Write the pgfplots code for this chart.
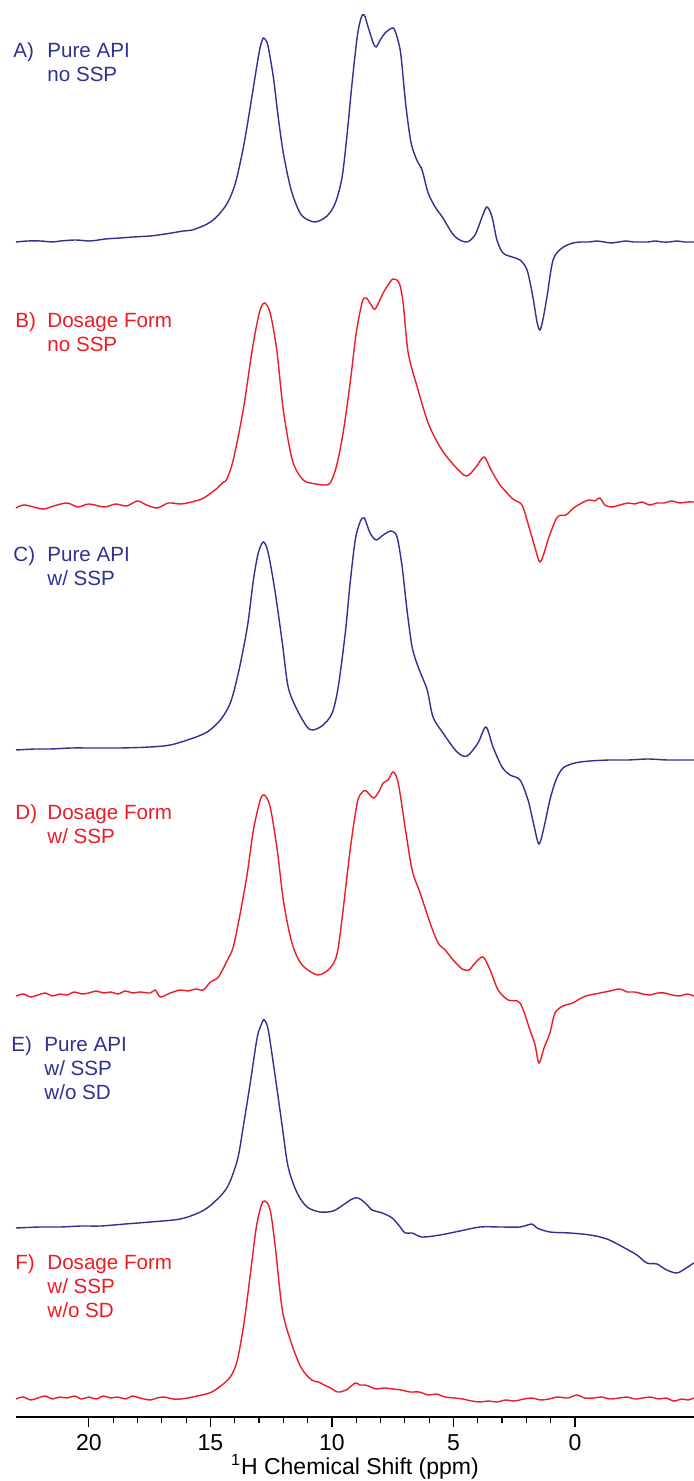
\documentclass[border=0pt]{standalone}
\usepackage{pgfplots}
\usepackage{pgfplotstable}
\pgfplotsset{compat=1.18}
\usepackage{fontspec}
\setmainfont{Liberation Sans}
\definecolor{apiblue}{HTML}{2E3192}
\definecolor{formred}{HTML}{ED1C24}

% 1H spectra: chemical shift (ppm) and intensity above each trace's own baseline
\pgfplotstableread{
ppm int
23.00 0
22.50 1
21.99 1
21.50 0
21.17 1
20.55 2
19.94 1
19.32 3
18.70 4
18.17 5
17.47 6
16.85 8
16.11 11
15.74 12
15.13 18
14.71 26
14.30 39
13.97 59
13.64 95
13.36 135
13.07 179
12.94 196
12.82 204
12.70 201
12.62 195
12.41 165
12.21 125
12.00 89
11.71 55
11.43 35
11.18 25
10.69 20
10.20 26
9.86 39
9.58 65
9.37 109
9.17 159
8.96 205
8.80 224
8.67 227
8.51 215
8.30 199
8.18 195
8.01 202
7.81 209
7.48 214
7.32 205
7.19 192
7.11 175
6.95 135
6.74 99
6.49 81
6.29 72
6.04 49
5.75 35
5.43 24
5.06 9
4.81 3
4.44 0
4.11 7
3.82 25
3.62 35
3.41 25
3.21 2
2.96 -11
2.59 -15
2.26 -18
1.97 -28
1.73 -55
1.56 -80
1.44 -88
1.32 -78
1.15 -55
0.90 -18
0.53 -6
0.08 -1
-0.29 0
-0.60 0
-0.90 1
-1.20 0
-1.50 -1
-1.80 0
-2.10 1
-2.40 0
-2.70 0
-3.00 0
-3.30 1
-3.60 0
-3.90 0
-4.20 1
-4.50 0
-4.90 0
}\specA

\pgfplotstableread{
ppm int
23.00 -1
22.65 2
21.90 -2
21.45 1
20.90 4
20.45 0
20.00 3
19.36 0
18.90 3
18.45 1
18.00 6
17.63 2
17.18 -1
16.73 4
16.19 3
15.62 6
15.27 9
14.71 19
14.47 25
14.34 27
14.06 47
13.65 97
13.28 157
12.99 194
12.78 204
12.54 194
12.27 157
12.00 97
11.63 47
11.18 27
10.65 23
10.28 22
10.07 24
9.82 40
9.54 74
9.25 124
9.00 174
8.75 205
8.59 209
8.38 202
8.22 198
7.89 214
7.69 222
7.48 228
7.23 224
7.07 204
6.86 154
6.49 120
6.04 84
5.55 60
5.06 44
4.48 31
4.07 40
3.74 50
3.45 37
3.08 22
2.55 8
2.18 2
1.89 -20
1.64 -41
1.44 -55
1.23 -43
1.07 -30
0.72 -10
0.37 -8
0.00 0
-0.55 7
-0.82 6
-1.03 9
-1.23 2
-1.52 0
-1.85 2
-2.18 4
-2.47 3
-2.75 5
-3.08 2
-3.37 4
-3.66 4
-3.99 6
-4.32 4
-4.60 5
-4.89 5
}\specB

\pgfplotstableread{
ppm int
23.00 -3
22.20 -2
21.58 -2
20.70 -1
19.93 -1
18.70 -1
17.47 0
16.65 2
15.82 8
15.13 15
14.59 27
14.18 44
13.85 74
13.48 120
13.23 167
13.03 194
12.82 205
12.62 194
12.33 154
12.04 104
11.80 60
11.43 37
11.02 20
10.77 17
10.36 22
9.99 34
9.74 60
9.45 114
9.25 164
9.04 207
8.84 225
8.67 229
8.43 214
8.18 207
7.89 212
7.56 216
7.32 210
7.11 180
6.91 137
6.70 100
6.45 80
6.08 57
5.84 30
5.43 14
4.85 -5
4.44 -9
3.99 4
3.66 20
3.37 0
3.00 -20
2.67 -28
2.26 -33
1.93 -53
1.69 -78
1.48 -97
1.27 -80
1.03 -53
0.78 -33
0.49 -21
0.00 -16
-0.62 -14
-1.44 -13
-2.20 -13
-3.00 -12
-3.80 -13
-4.90 -13
}\specC

\pgfplotstableread{
ppm int
23.00 -3
22.70 -1
22.40 -4
22.10 -2
21.80 0
21.50 -3
21.20 -1
20.90 -2
20.60 1
20.30 -1
20.00 0
19.70 2
19.40 0
19.10 1
18.80 -1
18.50 2
18.20 0
17.90 1
17.47 0
17.27 3
17.06 -4
16.65 0
16.24 3
15.91 2
15.62 4
15.29 3
15.00 11
14.67 16
14.30 33
14.06 46
13.77 80
13.48 120
13.23 163
12.95 193
12.78 198
12.54 186
12.25 143
12.00 93
11.71 56
11.43 36
11.10 25
10.56 18
10.07 25
9.78 40
9.54 83
9.25 143
8.96 190
8.75 201
8.59 202
8.30 195
8.10 200
7.89 210
7.69 213
7.48 221
7.27 210
6.99 166
6.70 123
6.37 100
5.96 70
5.63 50
5.34 43
5.01 33
4.64 24
4.36 23
4.11 30
3.78 36
3.49 23
3.16 3
2.75 -7
2.26 -10
1.85 -37
1.64 -52
1.48 -70
1.27 -55
1.03 -40
0.82 -20
0.49 -13
0.08 -10
-0.12 -7
-0.45 -3
-1.03 0
-1.44 2
-1.85 4
-2.15 1
-2.47 1
-2.80 -1
-3.08 -2
-3.40 0
-3.70 0
-4.00 -2
-4.32 -3
-4.60 -1
-4.89 -3
}\specD

\pgfplotstableread{
ppm int
23.00 -3
22.00 -2
21.17 -2
20.30 -1
19.52 -1
18.50 1
17.47 3
16.24 6
15.41 13
14.88 22
14.30 38
13.89 65
13.65 98
13.36 142
13.07 188
12.86 203
12.78 205
12.62 195
12.33 148
12.04 98
11.80 58
11.43 32
11.02 18
10.48 13
9.95 14
9.54 20
9.17 26
8.92 27
8.63 22
8.34 15
7.93 12
7.52 7
7.19 -2
6.99 -8
6.70 -8
6.29 -12
5.55 -10
4.73 -6
3.90 -2
3.08 -2
2.26 -2
1.77 1
1.56 -3
1.03 -7
0.21 -8
-0.62 -10
-1.32 -14
-1.97 -22
-2.55 -30
-2.96 -38
-3.37 -39
-3.78 -45
-4.19 -48
-4.52 -44
-4.89 -38
}\specE

\pgfplotstableread{
ppm int
23.00 -1
22.70 1
22.40 -2
22.10 0
21.80 2
21.50 -1
21.20 1
20.90 0
20.60 2
20.30 -1
20.00 1
19.70 -1
19.40 2
19.10 0
18.80 1
18.50 -1
18.20 2
17.90 0
17.47 -2
17.20 0
16.90 1
16.55 -1
16.20 -1
15.74 1
15.04 5
14.63 11
14.18 21
13.89 38
13.60 78
13.32 131
13.11 171
12.90 193
12.76 197
12.54 188
12.33 151
12.04 88
11.67 55
11.26 30
10.83 18
10.55 16
10.32 13
10.05 10
9.76 6
9.41 8
9.04 15
8.85 13
8.63 13
8.40 11
8.18 9
7.85 10
7.48 9
7.15 8
6.78 6
6.40 6
6.04 3
5.70 4
5.34 1
4.95 0
4.62 -1
4.25 -3
3.90 -4
3.55 -3
3.21 -4
2.85 -2
2.48 -3
2.10 -1
1.77 0
1.40 -2
1.07 -1
0.70 1
0.30 0
-0.08 3
-0.40 0
-0.78 0
-1.10 1
-1.45 -1
-1.81 0
-2.15 1
-2.45 -1
-2.79 0
-3.10 1
-3.45 -1
-3.75 0
-4.07 -3
-4.40 -1
-4.65 -2
-4.89 0
}\specF

\begin{document}
\begin{tikzpicture}
\begin{axis}[
  scale only axis, width=339pt, height=708.5pt,
  x dir=reverse, xmin=-4.9, xmax=23, ymin=0, ymax=1417,
  axis x line*=bottom, axis y line=none, ytick=\empty,
  xtick={0,5,10,15,20}, minor x tick num=4,
  xtick align=outside, major tick length=5pt, minor tick length=3pt,
  tick style={black, line width=0.6pt},
  axis line style={black, line width=0.6pt},
  /pgf/number format/assume math mode=true,
  xticklabel style={font=\fontsize{11.5}{13}\selectfont, anchor=base, yshift=-11.5pt},
  xlabel={\textsuperscript{1}H Chemical Shift (ppm)},
  xlabel style={font=\fontsize{11.5}{13}\selectfont, at={(axis description cs:0.5,0)}, anchor=base, yshift=-28.5pt},
  clip=false,
  every axis plot/.append style={line width=0.7pt, smooth, no markers},
]
\addplot[apiblue] table[x=ppm, y expr=\thisrow{int}+1175] {\specA};
\addplot[formred] table[x=ppm, y expr=\thisrow{int}+910] {\specB};
\addplot[apiblue] table[x=ppm, y expr=\thisrow{int}+670] {\specC};
\addplot[formred] table[x=ppm, y expr=\thisrow{int}+424] {\specD};
\addplot[apiblue] table[x=ppm, y expr=\thisrow{int}+192] {\specE};
\addplot[formred] table[x=ppm, y expr=\thisrow{int}+19] {\specF};
\end{axis}
\begin{scope}[every node/.style={inner sep=0pt, anchor=base west, font=\fontsize{10.3}{12}\selectfont}]
\node[text=apiblue] at (-1.5pt,679.5pt) {A)};
\node[text=apiblue] at (15.5pt,679.5pt) {Pure API};
\node[text=apiblue] at (15.5pt,667.5pt) {no SSP};
\node[text=formred] at (-0.5pt,544.5pt) {B)};
\node[text=formred] at (15.5pt,544.5pt) {Dosage Form};
\node[text=formred] at (15.5pt,532.5pt) {no SSP};
\node[text=apiblue] at (-1.5pt,427.5pt) {C)};
\node[text=apiblue] at (15.5pt,427.5pt) {Pure API};
\node[text=apiblue] at (15.5pt,415.5pt) {w/ SSP};
\node[text=formred] at (-0.5pt,298.75pt) {D)};
\node[text=formred] at (15.5pt,298.75pt) {Dosage Form};
\node[text=formred] at (15.5pt,286.75pt) {w/ SSP};
\node[text=apiblue] at (-2.5pt,182.5pt) {E)};
\node[text=apiblue] at (14pt,182.5pt) {Pure API};
\node[text=apiblue] at (14pt,170.5pt) {w/ SSP};
\node[text=apiblue] at (14pt,158.5pt) {w/o SD};
\node[text=formred] at (-0.5pt,73.5pt) {F)};
\node[text=formred] at (15.5pt,73.5pt) {Dosage Form};
\node[text=formred] at (15.5pt,61.5pt) {w/ SSP};
\node[text=formred] at (15.5pt,49.5pt) {w/o SD};
\end{scope}
\pgfresetboundingbox
\path[use as bounding box] (-8pt,-32pt) rectangle (339pt,708.5pt);
\end{tikzpicture}
\end{document}
